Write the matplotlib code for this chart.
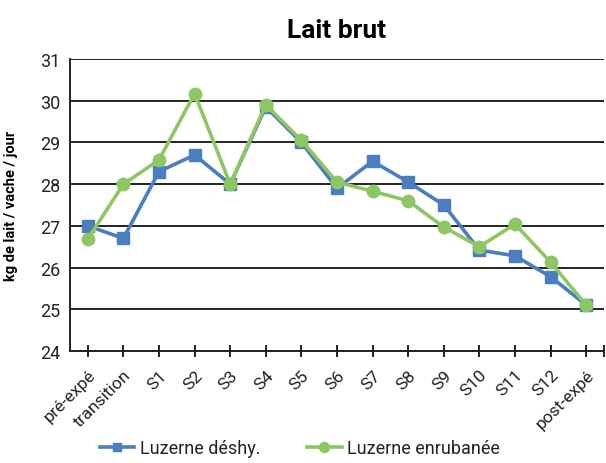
import numpy as np
import matplotlib.pyplot as plt

plt.rcParams['font.family'] = ['Roboto', 'DejaVu Sans']

periodes = ['pré-expé', 'transition', 'S1', 'S2', 'S3', 'S4', 'S5', 'S6',
            'S7', 'S8', 'S9', 'S10', 'S11', 'S12', 'post-expé']
deshy = [27.0, 26.7, 28.3, 28.7, 28.0, 29.85, 29.0, 27.9,
         28.55, 28.05, 27.5, 26.42, 26.28, 25.78, 25.1]
enrub = [26.68, 28.0, 28.58, 30.17, 28.0, 29.9, 29.05, 28.05,
         27.83, 27.6, 26.97, 26.5, 27.04, 26.13, 25.1]

bleu = '#4A7EBF'
vert = '#8DC763'

fig = plt.figure(figsize=(6.06, 4.64), dpi=100)
ax = fig.add_axes([0.1155, 0.2414, 0.8812, 0.6293])

x = np.arange(len(periodes)) + 0.5
ax.plot(x, deshy, color=bleu, lw=2.6, marker='s', ms=8, label='Luzerne déshy.', zorder=3)
ax.plot(x, enrub, color=vert, lw=2.6, marker='o', ms=9, label='Luzerne enrubanée', zorder=4)

ax.set_xlim(0, len(periodes))
ax.set_ylim(24, 31)
ax.set_yticks(range(24, 32))
ax.yaxis.grid(True, color='#222222', lw=1.4)
ax.set_axisbelow(True)
for s in ['top', 'right']:
    ax.spines[s].set_visible(False)
for s in ['left', 'bottom']:
    ax.spines[s].set_color('#222222')
    ax.spines[s].set_linewidth(1.4)

ax.set_xticks(x)
ax.set_xticks([len(periodes)], minor=True)
ax.set_xticklabels(periodes, rotation=45, ha='right', rotation_mode='anchor', fontsize=12.5)
ax.tick_params(axis='x', which='both', direction='inout', length=9, width=1.4, color='#222222', pad=7)
ax.tick_params(axis='y', length=0, labelsize=13, pad=7, labelcolor='#222222')
ax.tick_params(axis='x', labelcolor='#222222')

ax.set_ylabel('kg de lait / vache / jour', fontsize=10.5, fontweight='bold', labelpad=16)
ax.set_title('Lait brut', fontsize=19, fontweight='bold', pad=16)

leg = fig.legend(loc='lower center', bbox_to_anchor=(0.495, -0.022), ncol=2, frameon=False,
                 fontsize=13, handlelength=1.9, handletextpad=0.3, columnspacing=2.6,
                 labelcolor='#222222', markerscale=0.8)

fig.savefig('out.png', dpi=100)
